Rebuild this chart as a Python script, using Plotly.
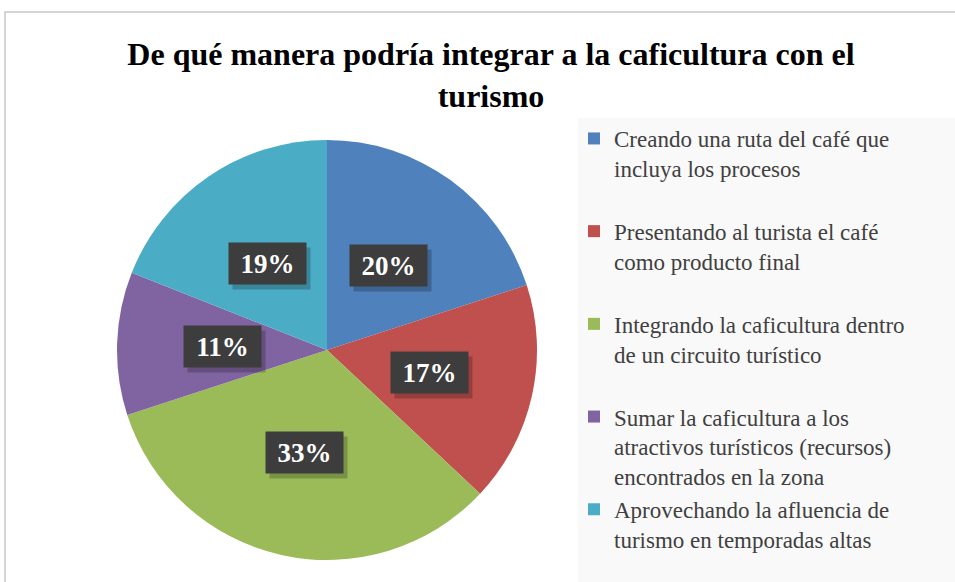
"""Pie: integración de la caficultura con el turismo."""

import math

import plotly.graph_objects as go

W, H = 955, 582

categories = [
    "Creando una ruta del café que<br>incluya los procesos<br> ",
    "Presentando al turista el café<br>como producto final<br> ",
    "Integrando la caficultura dentro<br>de un circuito turístico<br> ",
    "Sumar la caficultura a los<br>atractivos turísticos (recursos)<br>encontrados en la zona",
    "Aprovechando la afluencia de<br>turismo en temporadas altas",
]
values = [20, 17, 33, 11, 19]
colors = ["#4F81BD", "#C0504D", "#9BBB59", "#8064A2", "#4BACC6"]

# pie geometry in pixels
cx, cy, R = 327, 350, 210
dom_x = [(cx - R) / W, (cx + R) / W]
dom_y = [(H - cy - R) / H, (H - cy + R) / H]

fig = go.Figure(
    go.Pie(
        labels=categories,
        values=values,
        sort=False,
        direction="clockwise",
        rotation=0,
        marker=dict(colors=colors, line=dict(width=0)),
        textinfo="none",
        hoverinfo="label+percent",
        domain=dict(x=dom_x, y=dom_y),
    )
)

# data labels in dark boxes, placed at half radius on each slice's mid angle
total = sum(values)
cum = 0
for v in values:
    mid = (cum + v / 2) / total * 2 * math.pi
    cum += v
    px = cx + 0.5 * R * math.sin(mid)
    py = cy - 0.5 * R * math.cos(mid)
    common = dict(
        xref="paper", yref="paper", showarrow=False, width=75, height=39,
        xanchor="center", yanchor="middle",
    )
    fig.add_annotation(
        x=(px + 4) / W, y=(H - py - 5) / H, text="", bgcolor="rgba(0,0,0,0.22)", **common
    )
    fig.add_annotation(
        x=px / W,
        y=(H - py) / H,
        text=f"<b>{round(v / total * 100)}%</b>",
        bgcolor="#3d3d3d",
        font=dict(family="Liberation Serif", size=27, color="white"),
        **common,
    )

fig.update_layout(
    width=W,
    height=H,
    margin=dict(l=0, r=0, t=0, b=0),
    paper_bgcolor="white",
    plot_bgcolor="white",
    title=dict(
        text="<b>De qué manera podría integrar a la caficultura con el<br>turismo</b>",
        font=dict(family="Liberation Serif", size=32, color="black"),
        x=491 / W,
        xanchor="center",
        y=(H - 65) / H,
        yanchor="middle",
    ),
    legend=dict(
        x=574 / W,
        y=(H - 117) / H,
        xanchor="left",
        yanchor="top",
        valign="top",
        bgcolor="rgba(0,0,0,0)",
        font=dict(family="Liberation Serif", size=23, color="#404040"),
        itemclick=False,
    ),
    shapes=[
        dict(
            type="rect", xref="paper", yref="paper", layer="below",
            x0=578 / W, x1=1, y0=0, y1=(H - 118) / H,
            fillcolor="#f9f9f9", line=dict(width=0),
        ),
        dict(
            type="rect", xref="paper", yref="paper", layer="below",
            x0=5 / W, x1=1.01, y0=-0.01, y1=(H - 12) / H,
            fillcolor="rgba(0,0,0,0)", line=dict(color="#c8c8c8", width=1.5),
        ),
    ],
)

# drop the default 8px body margin so the figure sits at the window's origin
fig.write_html(
    "out.html",
    config={"displayModeBar": False},
    post_script="document.body.style.margin = '0';",
)
